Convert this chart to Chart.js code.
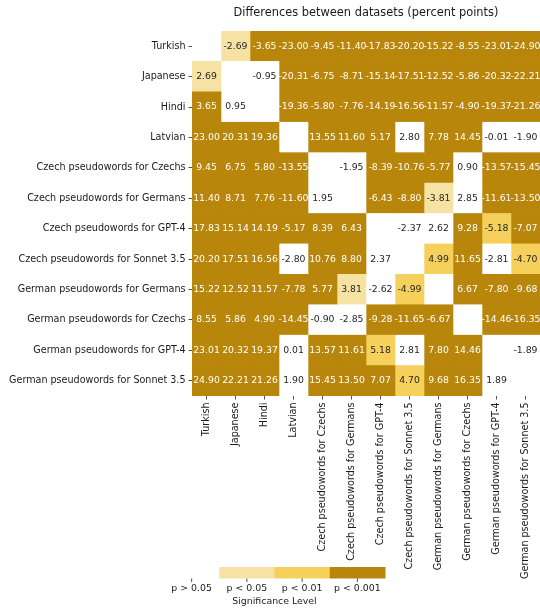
<!DOCTYPE html>
<html><head><meta charset="utf-8">
<script src="https://cdn.jsdelivr.net/npm/chart.js@4/dist/chart.umd.min.js"></script>
<style>html,body{margin:0;padding:0;background:#fff;overflow:hidden}#wrap{width:540px;height:609px;position:relative}</style>
</head><body><div id="wrap"><canvas id="c" width="540" height="609"></canvas></div>
<script>
const datasetLabels = [
  'Turkish', 'Japanese', 'Hindi', 'Latvian',
  'Czech pseudowords for Czechs', 'Czech pseudowords for Germans',
  'Czech pseudowords for GPT-4', 'Czech pseudowords for Sonnet 3.5',
  'German pseudowords for Germans', 'German pseudowords for Czechs',
  'German pseudowords for GPT-4', 'German pseudowords for Sonnet 3.5'
];
// differences (row minus column), percent points; null on the diagonal
const diffRows = [
  [null, -2.69, -3.65, -23.00, -9.45, -11.40, -17.83, -20.20, -15.22, -8.55, -23.01, -24.90],
  [2.69, null, -0.95, -20.31, -6.75, -8.71, -15.14, -17.51, -12.52, -5.86, -20.32, -22.21],
  [3.65, 0.95, null, -19.36, -5.80, -7.76, -14.19, -16.56, -11.57, -4.90, -19.37, -21.26],
  [23.00, 20.31, 19.36, null, 13.55, 11.60, 5.17, 2.80, 7.78, 14.45, -0.01, -1.90],
  [9.45, 6.75, 5.80, -13.55, null, -1.95, -8.39, -10.76, -5.77, 0.90, -13.57, -15.45],
  [11.40, 8.71, 7.76, -11.60, 1.95, null, -6.43, -8.80, -3.81, 2.85, -11.61, -13.50],
  [17.83, 15.14, 14.19, -5.17, 8.39, 6.43, null, -2.37, 2.62, 9.28, -5.18, -7.07],
  [20.20, 17.51, 16.56, -2.80, 10.76, 8.80, 2.37, null, 4.99, 11.65, -2.81, -4.70],
  [15.22, 12.52, 11.57, -7.78, 5.77, 3.81, -2.62, -4.99, null, 6.67, -7.80, -9.68],
  [8.55, 5.86, 4.90, -14.45, -0.90, -2.85, -9.28, -11.65, -6.67, null, -14.46, -16.35],
  [23.01, 20.32, 19.37, 0.01, 13.57, 11.61, 5.18, 2.81, 7.80, 14.46, null, -1.89],
  [24.90, 22.21, 21.26, 1.90, 15.45, 13.50, 7.07, 4.70, 9.68, 16.35, 1.89, null]
];
// significance level index: 0 = p>0.05, 1 = p<0.05, 2 = p<0.01, 3 = p<0.001
const sigRows = [
  [0, 1, 3, 3, 3, 3, 3, 3, 3, 3, 3, 3],
  [1, 0, 0, 3, 3, 3, 3, 3, 3, 3, 3, 3],
  [3, 0, 0, 3, 3, 3, 3, 3, 3, 3, 3, 3],
  [3, 3, 3, 0, 3, 3, 3, 0, 3, 3, 0, 0],
  [3, 3, 3, 3, 0, 0, 3, 3, 3, 0, 3, 3],
  [3, 3, 3, 3, 0, 0, 3, 3, 1, 0, 3, 3],
  [3, 3, 3, 3, 3, 3, 0, 0, 0, 3, 2, 3],
  [3, 3, 3, 0, 3, 3, 0, 0, 2, 3, 0, 2],
  [3, 3, 3, 3, 3, 1, 0, 2, 0, 3, 3, 3],
  [3, 3, 3, 3, 0, 0, 3, 3, 3, 0, 3, 3],
  [3, 3, 3, 0, 3, 3, 2, 0, 3, 3, 0, 0],
  [3, 3, 3, 0, 3, 3, 3, 2, 3, 3, 0, 0]
];
const sigLevelLabels = ['p > 0.05', 'p < 0.05', 'p < 0.01', 'p < 0.001'];
const sigColors = ['#ffffff', '#f6e3a4', '#f5d15c', '#b8860b'];
const sigTextColors = ['#262626', '#262626', '#262626', '#ffffff'];
const titleText = 'Differences between datasets (percent points)';
const colorbarTitle = 'Significance Level';

const FONT = "'DejaVu Sans', sans-serif";
Chart.defaults.font.family = FONT;
Chart.defaults.color = '#1a1a1a';

const datasets = datasetLabels.map((col, j) => ({
  label: col,
  data: datasetLabels.map((row, i) => [j, j + 1]),
  backgroundColor: datasetLabels.map((row, i) => sigColors[sigRows[i][j]]),
  borderWidth: 0,
  grouped: false,
  barPercentage: 1,
  categoryPercentage: 1
}));

const annotatePlugin = {
  id: 'annotate',
  afterDatasetsDraw(chart) {
    const ctx = chart.ctx;
    ctx.save();
    ctx.font = '9.3px ' + FONT;
    ctx.textAlign = 'center';
    ctx.textBaseline = 'middle';
    chart.data.datasets.forEach((ds, j) => {
      const meta = chart.getDatasetMeta(j);
      meta.data.forEach((el, i) => {
        const v = diffRows[i][j];
        if (v === null) return;
        ctx.fillStyle = sigTextColors[sigRows[i][j]];
        ctx.fillText(v.toFixed(2), (el.x + el.base) / 2, el.y);
      });
    });
    ctx.restore();
  }
};

const colorbarPlugin = {
  id: 'colorbar',
  afterDraw(chart) {
    const ctx = chart.ctx;
    const x0 = 164, segW = 55.25, y0 = 567, h = 11.5;
    ctx.save();
    sigColors.forEach((c, k) => {
      ctx.fillStyle = c;
      ctx.fillRect(x0 + k * segW, y0, segW + 0.5, h);
    });
    ctx.strokeStyle = '#262626';
    ctx.lineWidth = 0.8;
    ctx.fillStyle = '#1a1a1a';
    ctx.font = '9.4px ' + FONT;
    ctx.textAlign = 'center';
    ctx.textBaseline = 'middle';
    sigLevelLabels.forEach((t, k) => {
      const cx = x0 + (k + 0.5) * segW;
      ctx.beginPath();
      ctx.moveTo(cx, y0 + h);
      ctx.lineTo(cx, y0 + h + 3.5);
      ctx.stroke();
      ctx.fillText(t, cx, 589);
    });
    ctx.fillText(colorbarTitle, x0 + 2 * segW, 602);
    ctx.restore();
  }
};

new Chart(document.getElementById('c'), {
  type: 'bar',
  data: { labels: datasetLabels, datasets },
  plugins: [annotatePlugin, colorbarPlugin],
  options: {
    indexAxis: 'y',
    responsive: false,
    animation: false,
    layout: { padding: { left: 0, right: 0, top: 0, bottom: 0 } },
    plugins: {
      legend: { display: false },
      tooltip: { enabled: false },
      title: {
        display: true,
        text: titleText,
        fullSize: false,
        color: '#1a1a1a',
        font: { size: 11.4, weight: 'normal', family: FONT },
        padding: { top: 6, bottom: 11.3 }
      }
    },
    scales: {
      y: {
        type: 'category',
        offset: true,
        grid: { offset: false, drawOnChartArea: false, drawTicks: true, tickLength: 3.5, tickColor: '#262626', lineWidth: 0.8 },
        border: { display: false },
        ticks: { font: { size: 9.6 }, color: '#1a1a1a', padding: 3, autoSkip: false },
        afterFit(scale) { scale.width = 192; }
      },
      x: {
        type: 'linear',
        min: 0,
        max: datasetLabels.length,
        grid: { drawOnChartArea: false, drawTicks: true, tickLength: 3.5, tickColor: '#262626', lineWidth: 0.8 },
        border: { display: false },
        afterBuildTicks(scale) {
          scale.ticks = datasetLabels.map((l, j) => ({ value: j + 0.5 }));
        },
        ticks: {
          font: { size: 9.6 },
          color: '#1a1a1a',
          padding: 3,
          autoSkip: false,
          minRotation: 90,
          maxRotation: 90,
          callback: (value, index) => datasetLabels[index]
        },
        afterFit(scale) { scale.height = 213; }
      }
    }
  }
});
</script>
</body></html>
